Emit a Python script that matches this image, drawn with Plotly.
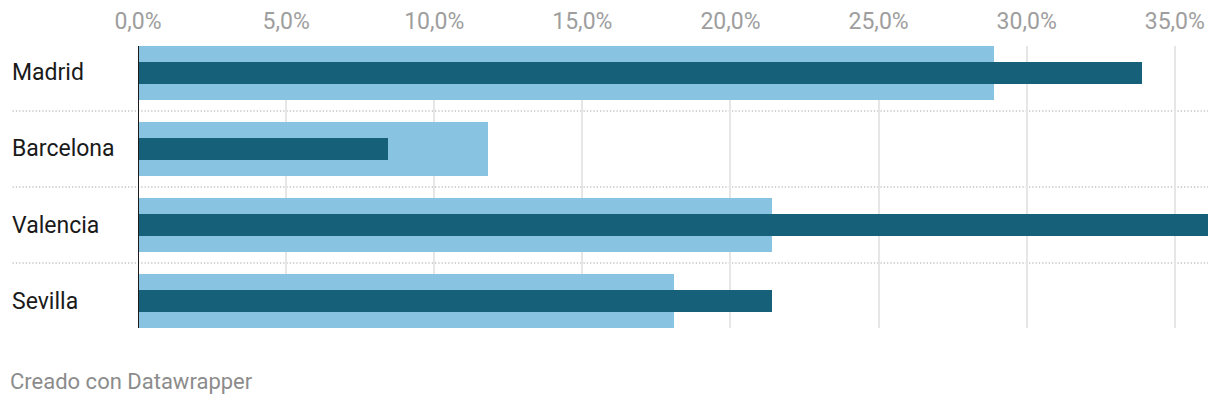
import plotly.graph_objects as go

cities = ["Madrid", "Barcelona", "Valencia", "Sevilla"]
light_vals = [28.9, 11.8, 21.4, 18.1]
dark_vals = [33.9, 8.45, 36.12, 21.4]
tick_vals = [0, 5, 10, 15, 20, 25, 30, 35]
tick_text = [f"{v:.1f}".replace(".", ",") + "%" for v in tick_vals]

LIGHT = "#88c4e2"
DARK = "#16607a"
FONT = "Roboto"

W, H = 1220, 404
ML, MR, MT, MB = 137.5, 12, 46, 76
PW, PH = W - ML - MR, H - MT - MB


def px_x(p):
    return (p - ML) / PW


def px_y(p):
    return (H - MB - p) / PH


fig = go.Figure()
fig.add_trace(go.Bar(y=cities, x=light_vals, orientation="h", width=0.71,
                     marker=dict(color=LIGHT, line=dict(width=0)), hoverinfo="skip"))
fig.add_trace(go.Bar(y=cities, x=dark_vals, orientation="h", width=0.29,
                     marker=dict(color=DARK, line=dict(width=0)), hoverinfo="skip"))

# left-aligned category labels
for c in cities:
    fig.add_annotation(x=px_x(10), xref="paper", y=c, yref="y", text=c,
                       xanchor="left", yanchor="middle", showarrow=False, borderpad=0,
                       font=dict(family=FONT, size=23, color="#1a1a1a"))

# dotted separators between rows
for i in range(len(cities) - 1):
    fig.add_shape(type="line", xref="paper", yref="y", x0=px_x(12), x1=1,
                  y0=i + 0.5, y1=i + 0.5, layer="below",
                  line=dict(color="#c4c4c4", width=1.3, dash="1.3px,2px"))

# zero baseline on top
fig.add_shape(type="line", xref="x", yref="paper", x0=0, x1=0, y0=0, y1=1,
              layer="above", line=dict(color="#1a1a1a", width=2))

# footer
fig.add_annotation(x=px_x(8), xref="paper", y=px_y(381), yref="paper",
                   text="Creado con Datawrapper",
                   xanchor="left", yanchor="middle", showarrow=False, borderpad=0,
                   font=dict(family=FONT, size=22, color="#8c8c8c"))

fig.update_layout(
    template="none",
    width=W, height=H,
    margin=dict(l=ML, r=MR, t=MT, b=MB, pad=0, autoexpand=False),
    barmode="overlay", bargap=0,
    plot_bgcolor="white", paper_bgcolor="white",
    showlegend=False,
    font=dict(family=FONT),
    xaxis=dict(range=[0, 36.12], side="top", tickmode="array", tickvals=tick_vals,
               ticktext=tick_text, automargin=False,
               showgrid=True, gridcolor="#e6e6e6", gridwidth=1.5,
               zeroline=False, showline=False, ticks="", ticklabelstandoff=11,
               tickfont=dict(family=FONT, size=23, color="#9e9e9e"), fixedrange=True),
    yaxis=dict(categoryorder="array", categoryarray=cities, range=[3.355, -0.355],
               automargin=False,
               showticklabels=False, showgrid=False, zeroline=False, showline=False,
               ticks="", fixedrange=True),
)

fig.write_html("out.html", config={"displayModeBar": False},
               post_script="document.body.style.margin='0';document.body.style.padding='0';")
